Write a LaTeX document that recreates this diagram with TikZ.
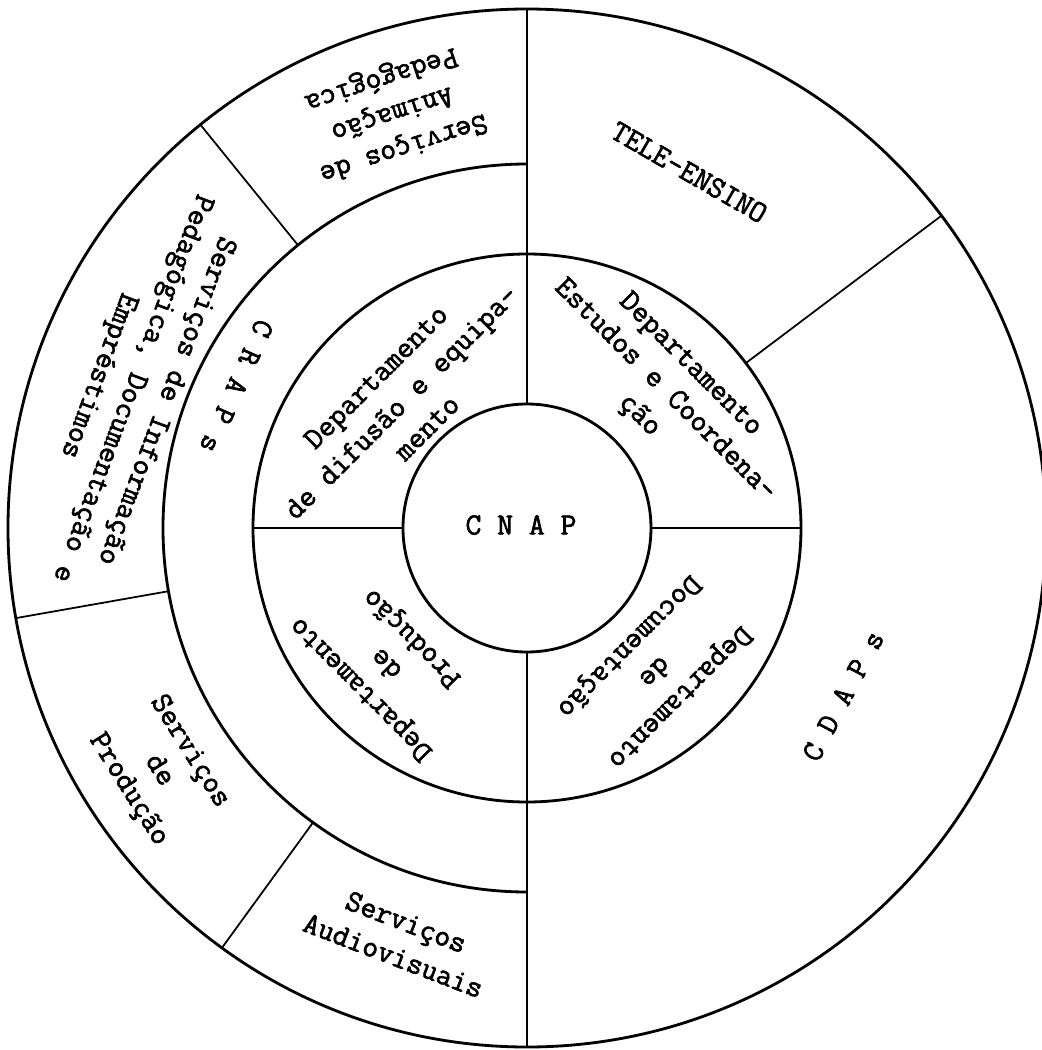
\documentclass[tikz,border=0pt]{standalone}
\usepackage{fontspec}
\setmonofont{Latin Modern Mono}[FakeBold=2]
\tikzset{
  ring/.style={line width=1.6pt},
  cut/.style={line width=1pt},
  lbl/.style={font=\ttfamily\fontsize{17.5}{20.5}\selectfont,align=center,inner sep=0pt},
}
\begin{document}
\begin{tikzpicture}
\useasboundingbox(-10.54,-10.44)rectangle(10.30,10.56);
\coordinate(O)at(0,0);
\draw[ring](O)circle(2.48)(O)circle(5.48)(O)circle(10.38);
\draw[ring](90:7.28)arc(90:270:7.28);
\coordinate(Ntop)at(90:10.38);
\coordinate(Nbot)at(270:10.38);
\draw[ring](Ntop)--(90:2.48)(270:2.48)--(Nbot);
\draw[ring](180:2.48)--(180:5.48)(0:2.48)--(0:5.48);
\coordinate(A)at(129:7.28);
\coordinate(B)at(190:7.28);
\coordinate(C)at(234:7.28);
\coordinate(D)at(37:5.48);
\draw[cut](A)--(129:10.38)(B)--(190:10.38)(C)--(234:10.38)(D)--(37:10.38);
\node[lbl,font=\ttfamily\bfseries\fontsize{17.5}{20.5}\selectfont](cnap)at(-0.12,0.06){C N A P};
\node[lbl,rotate=45](dif)at(135:3.56){Departamento\\de difusão e equipa-\\mento};
\node[lbl,rotate=-45](est)at(45:3.89){Departamento\\Estudos e Coordena-\\ção};
\node[lbl,rotate=135](prod)at(224:3.88){Departamento\\de\\Produção};
\node[lbl,rotate=-135](doc)at(-48.5:3.82){Departamento\\de\\Documentação};
\node[lbl,rotate=246](craps)at(154:6.46){C R A P s};
\node[lbl,rotate=62](cdaps)at(-28:7.16){C D A P s};
\node[lbl,rotate=-30](tele)at(65.5:7.82){TELE-ENSINO};
\node[lbl,rotate=198](anim)at(108:8.74){Serviços de\\Animação\\Pedagógica};
\node[lbl,rotate=249.5](info)at(160.5:8.39){Serviços de Informação\\Pedagógica, Documentação e\\Empréstimos};
\node[lbl,rotate=-58](sprod)at(213.4:8.82){Serviços\\de\\Produção};
\node[lbl,rotate=-21](audio)at(252.8:8.6){Serviços\\Audiovisuais};
\end{tikzpicture}
\end{document}
